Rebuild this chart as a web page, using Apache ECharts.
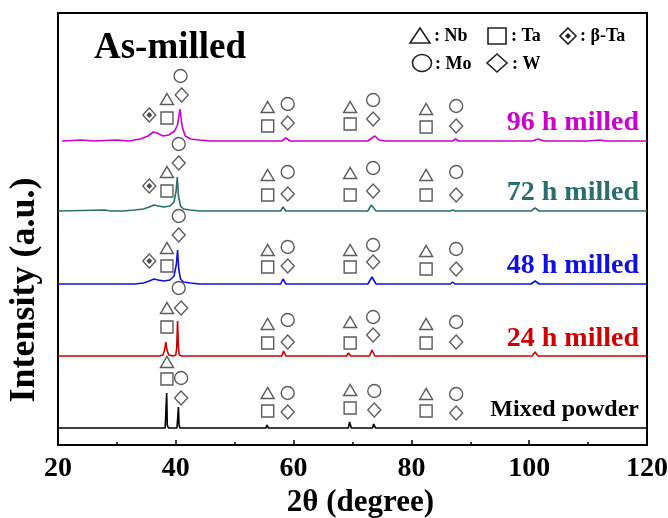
<!DOCTYPE html>
<html><head><meta charset="utf-8">
<script src="https://cdn.jsdelivr.net/npm/echarts@6/dist/echarts.min.js"></script>
<style>html,body{margin:0;padding:0;background:#fff}#c{width:668px;height:518px}</style>
</head><body><div id="c"></div>
<script>
// ---- data (2θ in degrees, intensity in a.u. relative to each trace's own baseline) ----
const traceNames = ['Mixed powder', '24 h milled', '48 h milled', '72 h milled', '96 h milled'];
const traceOffsets = [17, 89, 161, 234, 304];
const traceColors = ['#000000', '#d00000', '#1010e0', '#2a6e6e', '#cc00cc'];

const mixedPowder = [[20,0],[38.2,0],[38.35,2],[38.45,35],[38.55,3],[38.65,4],[38.75,0],[40.2,0],[40.35,2],[40.45,21],[40.55,3],[40.7,0],[55.3,0],[55.5,3],[55.7,0],[58.4,0],[58.6,2],[58.8,0],[69.3,0],[69.5,6],[69.8,0],[73.4,0],[73.6,4],[73.75,5],[73.9,0],[82.3,0],[82.5,2],[82.7,0],[87.4,0],[87.6,1],[87.8,0],[94.7,0],[94.9,2],[95.1,0],[101.2,0],[101.4,1],[101.6,0],[106.9,0],[107.1,1],[107.3,0],[120,0]];
const milled24h = [[20,0],[36.5,0],[36.8,1],[37.2,0],[37.8,1],[38.1,6],[38.3,14],[38.5,6],[38.8,1],[39.5,0],[40.0,1],[40.15,8],[40.3,35],[40.45,8],[40.6,1],[41,0],[55.3,0],[55.5,2],[55.8,0],[58.0,0],[58.3,5],[58.7,0],[69.0,0],[69.3,3],[69.7,0],[72.9,0],[73.3,6],[73.8,0],[86.7,0],[87.0,2],[87.3,0],[100.5,0],[101,4],[101.5,0],[120,0]];
const milled48h = [[20,0],[33,0],[34.5,1],[35.5,3],[36.3,5],[37,4],[38,3],[39,4],[39.7,8],[40.1,20],[40.3,34],[40.5,15],[40.8,5],[41.3,2],[42.5,1],[44,0],[57.8,0],[58.2,5],[58.7,0],[72.6,0],[73.3,7],[74.0,0],[86.6,0],[87,2],[87.4,0],[100.3,0],[101,3],[101.7,0],[115.2,0],[115.5,2],[115.8,0],[120,0]];
const milled72h = [[20,0],[28,1],[29,0],[31,0],[33,1],[34.5,2],[35.5,4],[36.3,6],[37,5],[38,4],[39,5],[39.7,9],[40.05,20],[40.25,34],[40.45,15],[40.8,5],[41.3,2],[42.5,1],[44,0],[57.8,0],[58.2,4],[58.7,0],[72.6,0],[73.2,6],[74,0],[86.6,0],[87,1],[87.4,0],[100.3,0],[101,3],[101.7,0],[115.2,0],[115.5,2],[115.8,0],[120,0]];
const milled96h = [[20.7,0],[24,1],[26,0],[30,1],[32,0],[34,2],[35.3,5],[36.2,9],[36.8,8],[37.8,5],[38.8,6],[39.8,10],[40.3,16],[40.7,32],[41.1,14],[41.6,5],[42.5,2],[44,1],[46,0],[58,0],[58.7,3],[59.4,0],[72.6,0],[73.3,3],[73.8,5],[74.5,1],[75.5,0],[87,0],[87.5,2],[88,0],[100.5,0],[101.5,2],[102.5,0],[110,0],[112,1],[113,0],[120,0]];

// phase markers: [2θ, absolute intensity level]
const nbMarks = [[38.5,346],[55.6,338],[69.6,338],[82.5,336],[38.5,273],[55.6,270],[69.6,272],[82.5,270],[38.5,197],[55.6,195],[69.6,195],[82.5,194],[38.5,137],[55.6,121],[69.6,123],[82.5,121],[38.5,83],[55.6,52],[69.6,55],[82.5,51]];
const taMarks = [[38.5,327],[55.6,319],[69.6,321],[82.5,318],[38.5,254],[55.6,250],[69.6,250],[82.5,250],[38.5,179],[55.6,178],[69.6,178],[82.5,176],[38.5,118],[55.6,102],[69.6,102],[82.5,102],[38.5,66],[55.6,34],[69.6,37],[82.5,34]];
const moMarks = [[40.8,369],[59.0,341],[73.5,345],[87.6,339],[40.5,301],[59.0,273],[73.5,277],[87.6,273],[40.5,229],[59.0,198],[73.5,200],[87.6,196],[40.5,157],[59.0,125],[73.5,128],[87.6,123],[40.9,67],[59.0,52],[73.7,54],[87.6,51]];
const wMarks = [[41.0,350],[59.0,322],[73.5,326],[87.6,319],[40.5,282],[59.0,251],[73.5,254],[87.6,250],[40.5,210],[59.0,179],[73.5,183],[87.6,176],[40.9,137],[59.0,103],[73.5,110],[87.6,103],[40.9,47],[59.0,33],[73.7,35],[87.6,32]];
const betaTaMarks = [[35.5,330],[35.5,259],[35.5,184]];

const xMin = 20, xMax = 120, xStep = 20;
const yMin = 0, yMax = 432;

// ---- chart ----
const traces = [mixedPowder, milled24h, milled48h, milled72h, milled96h];
const FONT = '"Liberation Serif", "Times New Roman", serif';
const chart = echarts.init(document.getElementById('c'), null, {renderer: 'canvas'});
const markStyle = {color: 'rgba(255,255,255,0)', borderColor: '#333', borderWidth: 1.4};

const series = traces.map((t, i) => ({
  type: 'line', name: traceNames[i], showSymbol: false, silent: true,
  data: t.map(p => [p[0], p[1] + traceOffsets[i]]),
  lineStyle: {color: traceColors[i], width: 1.6}, z: 2
}));
const markerSeries = [
  ['Nb', nbMarks, 'triangle', [13, 11]],
  ['Ta', taMarks, 'rect', [12, 12]],
  ['Mo', moMarks, 'circle', 13],
  ['W', wMarks, 'diamond', [13, 14]],
  ['β-Ta', betaTaMarks, 'diamond', [13, 14]]
].map(m => ({type: 'scatter', name: m[0], data: m[1], symbol: m[2], symbolSize: m[3], itemStyle: markStyle, z: 3, silent: true}));
markerSeries.push({type: 'scatter', name: 'β-Ta core', data: betaTaMarks, symbol: 'diamond', symbolSize: 6, itemStyle: {color: '#222'}, z: 3, silent: true});

const txt = (s, x, y, size, color, align, rot) => ({
  type: 'text', x: x, y: y, rotation: rot || 0,
  style: {text: s, fill: color, font: 'bold ' + size + 'px ' + FONT, textAlign: align || 'left', textVerticalAlign: 'middle'}
});
const stroke = {stroke: '#222', lineWidth: 1.6, fill: 'none'};

chart.setOption({
  animation: false,
  backgroundColor: '#fff',
  grid: {left: 58, right: 21, top: 13, bottom: 73, outerBoundsMode: 'none', containLabel: false,
         show: true, borderColor: '#000', borderWidth: 2, backgroundColor: 'transparent'},
  xAxis: {
    type: 'value', min: xMin, max: xMax, interval: xStep,
    name: '2θ (degree)', nameLocation: 'middle', nameGap: 38,
    nameTextStyle: {fontFamily: FONT, fontWeight: 'bold', fontSize: 31, color: '#000', padding: [0, 0, 0, 16]},
    axisLine: {lineStyle: {color: '#000', width: 2}},
    axisTick: {inside: true, length: 5, lineStyle: {color: '#000', width: 1.5}},
    minorTick: {show: true, splitNumber: 2, length: 3, lineStyle: {color: '#000', width: 1.5}},
    axisLabel: {fontFamily: FONT, fontWeight: 'bold', fontSize: 28, color: '#000', margin: 10},
    splitLine: {show: false}
  },
  yAxis: {
    type: 'value', min: yMin, max: yMax,
    axisLine: {show: true, lineStyle: {color: '#000', width: 2}},
    axisTick: {show: false}, axisLabel: {show: false}, splitLine: {show: false}
  },
  series: series.concat(markerSeries),
  graphic: [
    txt('Intensity (a.u.)', 25, 290, 36, '#000', 'center', Math.PI / 2),
    txt('As-milled', 94, 48, 37, '#000'),
    txt('96 h milled', 639, 123, 28, traceColors[4], 'right'),
    txt('72 h milled', 639, 193, 28, traceColors[3], 'right'),
    txt('48 h milled', 639, 266, 28, traceColors[2], 'right'),
    txt('24 h milled', 639, 339, 28, traceColors[1], 'right'),
    txt('Mixed powder', 639, 410, 24, '#000', 'right'),
    {type: 'polygon', shape: {points: [[410, 43], [430, 43], [420, 28]]}, style: stroke},
    txt(': Nb', 434, 36, 18, '#000'),
    {type: 'rect', shape: {x: 488, y: 28, width: 18, height: 16}, style: stroke},
    txt(': Ta', 511, 36, 18, '#000'),
    {type: 'polygon', shape: {points: [[568, 28], [576, 36], [568, 44], [560, 36]]}, style: stroke},
    {type: 'polygon', shape: {points: [[568, 33], [571, 36], [568, 39], [565, 36]]}, style: {fill: '#222'}},
    txt(': β-Ta', 580, 36, 18, '#000'),
    {type: 'ellipse', shape: {cx: 422, cy: 63, rx: 9.5, ry: 8.5}, style: stroke},
    txt(': Mo', 435, 64, 18, '#000'),
    {type: 'polygon', shape: {points: [[497, 54], [507, 63], [497, 72], [487, 63]]}, style: stroke},
    txt(': W', 512, 64, 18, '#000')
  ]
});
</script></body></html>
